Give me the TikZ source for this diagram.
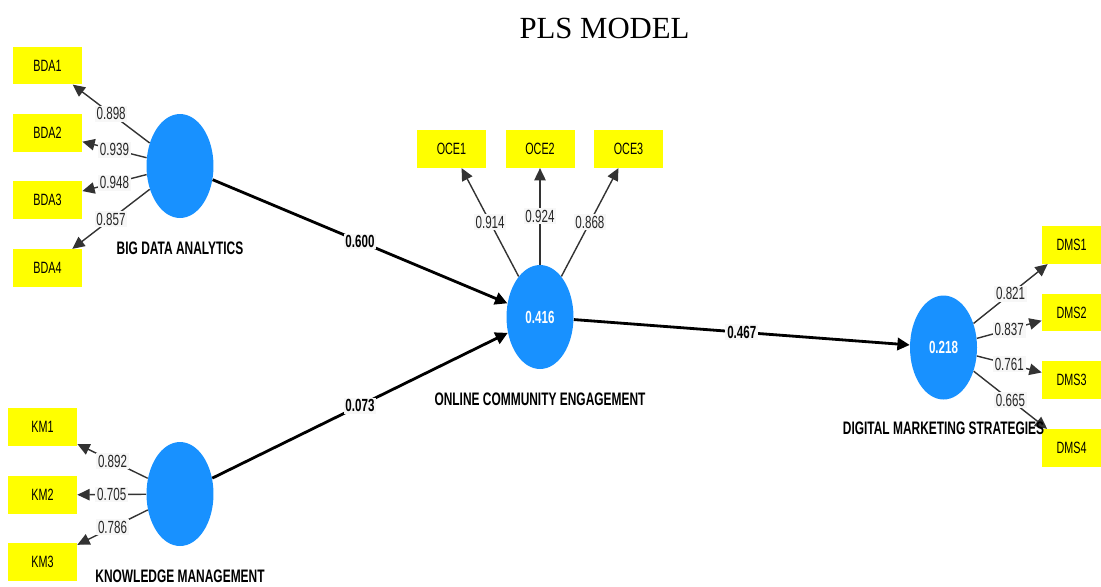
\documentclass[tikz,border=0pt]{standalone}
\usepackage{fontspec}
\setmainfont{Liberation Serif}
\newfontfamily\plsfont[FakeStretch=0.66]{Liberation Sans}
\usepackage{tikz}
\usetikzlibrary{arrows.meta}
\usetikzlibrary{shapes.geometric}
\definecolor{lvblue}{RGB}{24,145,255}
\definecolor{mvyellow}{RGB}{255,255,0}

\begin{document}
\begin{tikzpicture}[x=0.02cm,y=-0.02cm]

\tikzstyle{latent}=[ellipse,fill=lvblue,minimum width=1.34cm,minimum height=2.08cm,inner sep=0pt,text=white,font=\plsfont\bfseries\fontsize{10}{12}\selectfont]
\tikzstyle{item}=[rectangle,fill=mvyellow,minimum width=1.38cm,minimum height=0.75cm,inner sep=0pt,font=\plsfont\fontsize{9.3}{11}\selectfont]
\tikzstyle{lvname}=[yshift=-0.6cm,font=\plsfont\bfseries\fontsize{10.3}{12}\selectfont]
\tikzstyle{loading}=[draw=black!80,line width=0.8pt,-{Triangle[length=7pt,width=6.5pt]}]
\tikzstyle{structural}=[draw=black,line width=1.6pt,-{Triangle[length=7pt,width=7pt]}]
\tikzstyle{coef}=[fill=black!3,inner sep=1pt,text=black!85,font=\plsfont\fontsize{10}{12}\selectfont]
\tikzstyle{pathcoef}=[coef,text=black,font=\plsfont\bfseries\fontsize{10}{12}\selectfont]

\useasboundingbox (0,0) rectangle (1101,586);

% TITLE
\node (title) at (604.5,28) {\fontsize{17.5}{20}\selectfont PLS MODEL};

% LATENT VARIABLES
\node [latent] (BDA) at (180,166) {};
\node [latent] (KM) at (180,494) {};
\node [latent] (OCE) at (540,317) {0.416};
\node [latent] (DMS) at (943.5,347.5) {0.218};

% INDICATORS
\node [item] (BDA1) at (47.5,65.5) {BDA1};
\node [item] (BDA2) at (47.5,133) {BDA2};
\node [item] (BDA3) at (47.5,200) {BDA3};
\node [item] (BDA4) at (47.5,268) {BDA4};
\node [item] (KM1) at (42.5,427) {KM1};
\node [item] (KM2) at (42.5,495) {KM2};
\node [item] (KM3) at (42.5,562) {KM3};
\node [item] (OCE1) at (451.5,149) {OCE1};
\node [item] (OCE2) at (540,149) {OCE2};
\node [item] (OCE3) at (628.5,149) {OCE3};
\node [item,minimum width=1.18cm] (DMS1) at (1071.5,245) {DMS1};
\node [item,minimum width=1.18cm] (DMS2) at (1071.5,312.5) {DMS2};
\node [item,minimum width=1.18cm] (DMS3) at (1071.5,380) {DMS3};
\node [item,minimum width=1.18cm] (DMS4) at (1071.5,448) {DMS4};

% OUTER LOADINGS
\draw [loading] (BDA) -- node[coef] {0.898} (BDA1);
\draw [loading] (BDA) -- node[coef] {0.939} (BDA2);
\draw [loading] (BDA) -- node[coef] {0.948} (BDA3);
\draw [loading] (BDA) -- node[coef] {0.857} (BDA4);
\draw [loading] (KM) -- node[coef] {0.892} (KM1);
\draw [loading] (KM) -- node[coef] {0.705} (KM2);
\draw [loading] (KM) -- node[coef] {0.786} (KM3);
\draw [loading] (OCE) -- node[coef] {0.914} (OCE1);
\draw [loading] (OCE) -- node[coef] {0.924} (OCE2);
\draw [loading] (OCE) -- node[coef] {0.868} (OCE3);
\draw [loading] (DMS) -- node[coef] {0.821} (DMS1);
\draw [loading] (DMS) -- node[coef] {0.837} (DMS2);
\draw [loading] (DMS) -- node[coef] {0.761} (DMS3);
\draw [loading] (DMS) -- node[coef] {0.665} (DMS4);

% PATH COEFFICIENTS
\draw [structural] (BDA) -- node[pathcoef] {0.600} (OCE);
\draw [structural] (KM) -- node[pathcoef] {0.073} (OCE);
\draw [structural] (OCE) -- node[pathcoef] {0.467} (DMS);

% NAMES
\node [lvname] (BDAname) at (BDA.south) {BIG DATA ANALYTICS};
\node [lvname] (KMname) at (KM.south) {KNOWLEDGE MANAGEMENT};
\node [lvname] (OCEname) at (OCE.south) {ONLINE COMMUNITY ENGAGEMENT};
\node [lvname,yshift=0.04cm] (DMSname) at (DMS.south) {DIGITAL MARKETING STRATEGIES};

\end{tikzpicture}
\end{document}
